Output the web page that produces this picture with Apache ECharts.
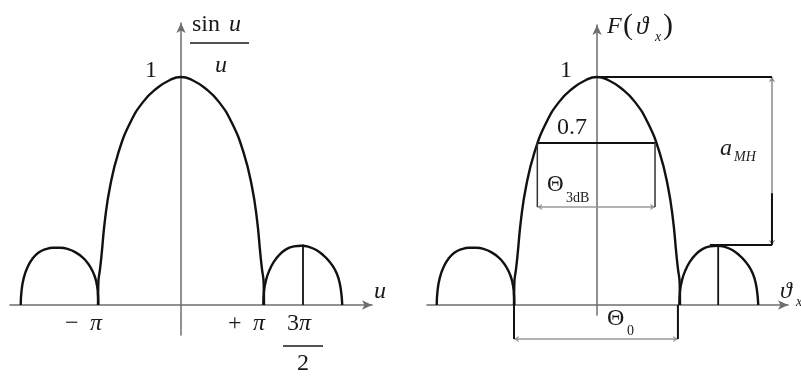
<!DOCTYPE html>
<html>
<head>
<meta charset="utf-8">
<title>sin u / u</title>
<script src="https://cdn.jsdelivr.net/npm/echarts@6/dist/echarts.min.js"></script>
<style>
html, body {margin: 0; padding: 0; background: #fff;}
#chart {width: 801px; height: 376px;}
</style>
</head>
<body>
<div id="chart"></div>
<script>
/*u in units of pi, amplitude normalised to the main peak*/
var mainLobeU = [-1.0, -0.996, -0.975, -0.955, -0.916, -0.855, -0.755, -0.614, -0.454, -0.293, -0.133, 0,
                 0.133, 0.293, 0.454, 0.614, 0.755, 0.855, 0.916, 0.955, 0.975, 0.996, 1.0];
var mainLobeF = [0, 0.096, 0.16, 0.228, 0.373, 0.519, 0.667, 0.798, 0.892, 0.950, 0.987, 1,
                 0.987, 0.950, 0.892, 0.798, 0.667, 0.519, 0.373, 0.228, 0.16, 0.096, 0];
var leftLobeU = [-1.931, -1.922, -1.895, -1.850, -1.790, -1.715, -1.630, -1.540, -1.450, -1.360,
                 -1.270, -1.190, -1.120, -1.065, -1.025, -1.003, -0.996];
var leftLobeF = [0, 0.060, 0.118, 0.165, 0.203, 0.230, 0.245, 0.251, 0.251, 0.245,
                 0.231, 0.210, 0.182, 0.148, 0.108, 0.060, 0];
var rightLobeU = [0.992, 1.000, 1.025, 1.065, 1.120, 1.190, 1.270, 1.360, 1.450, 1.540,
                  1.630, 1.715, 1.790, 1.850, 1.895, 1.925, 1.943];
var rightLobeF = [0, 0.060, 0.110, 0.152, 0.190, 0.222, 0.245, 0.257, 0.260, 0.255,
                  0.241, 0.218, 0.190, 0.158, 0.120, 0.070, 0];

/*marker at 3pi/2*/
var sideMarkU = 1.47;
var sideMarkF = 0.265;

/*right picture: levels and widths*/
var peakLevel = 1;
var halfPowerLevel = 0.711;
var halfPowerU = [-0.719, 0.699];
var halfPowerDimF = 0.43;
var zeroU = [-1.0, 0.975];
var zeroDimF = -0.149;
var sideLevel = 0.263;
var sideLevelStartU = 1.36;
var dimU = 2.108;
var dimSplitF = 0.49;

var PX_PER_U = 83;
var PX_PER_F = 228;
var SERIF = '"Liberation Serif", "DejaVu Serif", serif';

function pairs(us, fs) {
    var out = [];
    for (var i = 0; i < us.length; i++) {
        out.push([us[i], fs[i]]);
    }
    return out;
}

/*origin and box in pixels -> grid + axis ranges*/
function frame(ox, oy, l, r, t, b) {
    return {
        grid: {left: l, top: t, width: r - l, height: b - t},
        xMin: (l - ox) / PX_PER_U, xMax: (r - ox) / PX_PER_U,
        yMin: (oy - b) / PX_PER_F, yMax: (oy - t) / PX_PER_F
    };
}

function axis(idx, min, max) {
    return {
        type: 'value', gridIndex: idx, min: min, max: max,
        axisLine: {show: true, onZero: true, symbol: ['none', 'arrow'], symbolSize: [7, 10],
            lineStyle: {color: '#6e6e6e', width: 1.5}},
        axisTick: {show: false}, axisLabel: {show: false}, splitLine: {show: false}
    };
}

function curve(g, us, fs) {
    return {
        type: 'line', xAxisIndex: g, yAxisIndex: g, data: pairs(us, fs),
        smooth: 0.5, showSymbol: false, symbol: 'none', clip: false, silent: true,
        lineStyle: {color: '#111', width: 2.4}
    };
}

function seg(g, pts, color, width) {
    return {
        type: 'line', xAxisIndex: g, yAxisIndex: g, data: pts,
        showSymbol: false, symbol: 'none', clip: false, silent: true,
        lineStyle: {color: color, width: width}
    };
}

function dim(g, pts, color) {
    return {
        type: 'lines', coordinateSystem: 'cartesian2d', xAxisIndex: g, yAxisIndex: g,
        symbol: ['arrow', 'arrow'], symbolSize: 5, clip: false, silent: true,
        lineStyle: {color: color, width: 1.5, opacity: 1},
        data: [{coords: pts}]
    };
}

function label(txt, x, y, size, italic, align) {
    return {
        type: 'text', x: x, y: y, silent: true,
        style: {text: txt, fontSize: size, fontFamily: SERIF, fontStyle: italic ? 'italic' : 'normal',
            fill: '#1a1a1a', align: align || 'left', verticalAlign: 'middle'}
    };
}

var L = frame(181, 305, 10, 372, 23, 335);
var R = frame(597, 305, 427, 788, 25, 315);

var myChart = echarts.init(document.getElementById('chart'));
var option = {
    animation: false,
    grid: [L.grid, R.grid],
    xAxis: [axis(0, L.xMin, L.xMax), axis(1, R.xMin, R.xMax)],
    yAxis: [axis(0, L.yMin, L.yMax), axis(1, R.yMin, R.yMax)],
    series: [
        /*left: sin u / u*/
        curve(0, leftLobeU, leftLobeF),
        curve(0, mainLobeU, mainLobeF),
        curve(0, rightLobeU, rightLobeF),
        seg(0, [[sideMarkU, 0], [sideMarkU, sideMarkF]], '#111', 1.8),

        /*right: F(theta)*/
        curve(1, leftLobeU, leftLobeF),
        curve(1, mainLobeU, mainLobeF),
        curve(1, rightLobeU, rightLobeF),
        seg(1, [[sideMarkU - 0.01, 0], [sideMarkU - 0.01, sideLevel]], '#111', 1.8),
        seg(1, [[0, peakLevel], [dimU, peakLevel]], '#111', 2),
        seg(1, [[sideLevelStartU, sideLevel], [dimU, sideLevel]], '#111', 2),
        dim(1, [[dimU, peakLevel], [dimU, sideLevel]], '#8a8a8a'),
        seg(1, [[dimU, dimSplitF], [dimU, sideLevel]], '#111', 2),
        seg(1, [[halfPowerU[0], halfPowerLevel], [halfPowerU[1], halfPowerLevel]], '#111', 2),
        seg(1, [[halfPowerU[0], halfPowerLevel], [halfPowerU[0], halfPowerDimF]], '#333', 1.5),
        seg(1, [[halfPowerU[1], halfPowerLevel], [halfPowerU[1], halfPowerDimF]], '#333', 1.5),
        dim(1, [[halfPowerU[0], halfPowerDimF], [halfPowerU[1], halfPowerDimF]], '#9a9a9a'),
        seg(1, [[zeroU[0], 0], [zeroU[0], zeroDimF]], '#111', 2),
        seg(1, [[zeroU[1], 0], [zeroU[1], zeroDimF]], '#111', 2),
        dim(1, [[zeroU[0], zeroDimF], [zeroU[1], zeroDimF]], '#9a9a9a')
    ],
    graphic: [
        /*left labels*/
        label('1', 157, 71, 24, false, 'right'),
        label('sin', 192, 25, 24, false),
        label('u', 229, 25, 24, true),
        {type: 'line', silent: true, shape: {x1: 190, y1: 43, x2: 249, y2: 43},
            style: {stroke: '#1a1a1a', lineWidth: 1.5}},
        label('u', 221, 66, 24, true, 'center'),
        label('u', 380, 292, 24, true, 'center'),
        label('\u2212', 65, 324, 24, false),
        label('\u03c0', 90, 324, 24, true),
        label('+', 228, 324, 24, false),
        label('\u03c0', 253, 324, 24, true),
        label('3', 287, 324, 24, false),
        label('\u03c0', 299, 324, 24, true),
        {type: 'line', silent: true, shape: {x1: 283, y1: 346, x2: 323, y2: 346},
            style: {stroke: '#1a1a1a', lineWidth: 1.5}},
        label('2', 303, 364, 24, false, 'center'),

        /*right labels*/
        label('F', 607, 27, 24, true),
        label('(', 623, 26, 30, false),
        label('\u03d1', 636, 27, 25, true),
        label('x', 655, 37, 14, true),
        label(')', 663, 26, 30, false),
        label('1', 572, 71, 24, false, 'right'),
        label('0.7', 557, 128, 24, false),
        label('\u0398', 547, 185, 23, false),
        label('3dB', 566, 198, 14, false),
        label('a', 720, 149, 24, true),
        label('MH', 734, 157, 14, true),
        label('\u03d1', 780, 292, 24, true),
        label('x', 796, 302, 14, true),
        label('\u0398', 607, 319, 24, false),
        label('0', 627, 331, 14, false)
    ]
};
myChart.setOption(option);
</script>
</body>
</html>
